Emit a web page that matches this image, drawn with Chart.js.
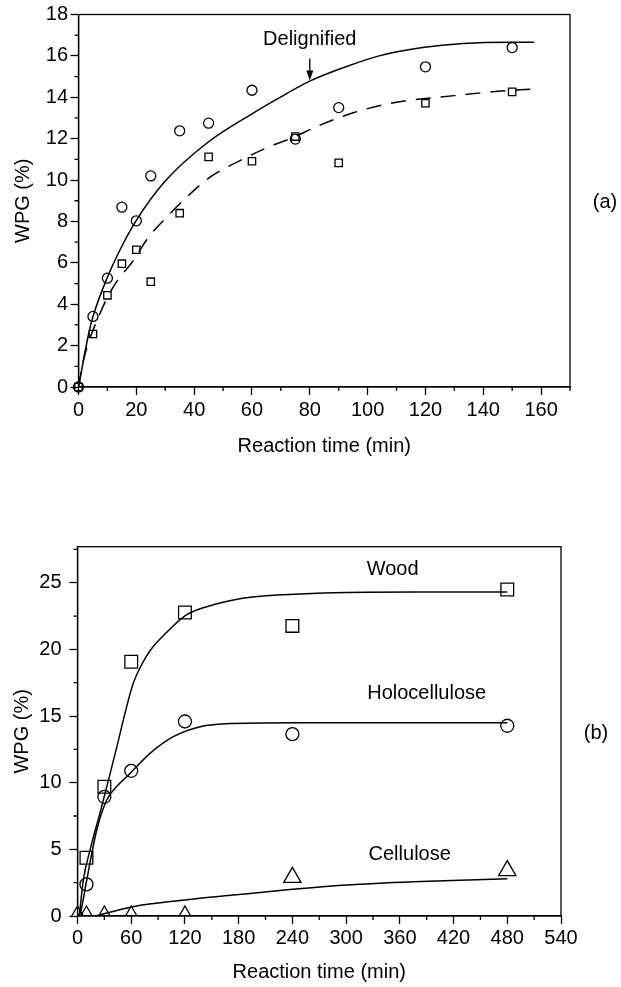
<!DOCTYPE html>
<html>
<head>
<meta charset="utf-8">
<script src="https://cdn.jsdelivr.net/npm/chart.js@4.4.1/dist/chart.umd.min.js"></script>
<style>
  html, body { margin: 0; padding: 0; background: #fff; }
  #wrap { position: relative; width: 621px; height: 987px; }
  canvas { position: absolute; left: 0; }
  #chartA { top: 0; }
  #chartB { top: 480px; }
</style>
</head>
<body>
<div id="wrap">
  <canvas id="chartA" width="621" height="470"></canvas>
  <canvas id="chartB" width="621" height="507"></canvas>
</div>
<script>
// ---- Panel (a): WPG vs reaction time, first 150 min ----
const timeA = [0, 5, 10, 15, 20, 25, 35, 45, 60, 75, 90, 120, 150];
const wpgDelignified = [0, 3.41, 5.26, 8.69, 8.03, 10.2, 12.38, 12.75, 14.34, 11.98, 13.5, 15.47, 16.4];
const wpgWoodA = [0, 2.56, 4.43, 5.96, 6.63, 5.09, 8.40, 11.12, 10.91, 12.1, 10.83, 13.71, 14.26];

// fitted curves of panel (a)
const fitDelignifiedX = [0, 3.4, 5, 10, 15, 20, 30, 45, 60, 70, 80, 93, 104, 119, 133, 150, 157.6];
const fitDelignifiedY = [0, 2.5, 3.4, 5.3, 6.8, 8.05, 9.95, 11.85, 13.2, 14.02, 14.78, 15.5, 16.0, 16.4, 16.6, 16.66, 16.66];
const fitWoodAX = [0, 1.7, 7.4, 12, 19, 24, 30.5, 37.4, 45.5, 56, 65, 75, 81, 95, 110, 130, 145, 157];
const fitWoodAY = [0, 1.29, 3.54, 4.83, 6.12, 7.2, 8.21, 9.17, 10.14, 10.95, 11.55, 12.1, 12.5, 13.25, 13.76, 14.08, 14.29, 14.4];

// ---- Panel (b): WPG vs reaction time up to 480 min ----
const timeB = [10, 30, 60, 120, 240, 480];
const wpgWood = [4.37, 9.69, 19.07, 22.76, 21.76, 24.49];
const wpgHolocellulose = [2.37, 8.94, 10.89, 14.59, 13.64, 14.27];
const timeCellulose = [0, 10, 30, 60, 120, 240, 480];
const wpgCellulose = [0, 0, 0, 0, 0, 2.9, 3.4];

// fitted curves of panel (b)
const fitWoodX = [2, 6.5, 15, 25, 35, 44, 53, 62, 72, 81, 100, 122, 155, 193, 248, 300, 380, 480];
const fitWoodY = [0, 2.7, 5.2, 7.7, 10.3, 12.7, 15.2, 17.4, 18.9, 19.9, 21.3, 22.6, 23.4, 23.9, 24.15, 24.27, 24.3, 24.3];
const fitHoloX = [0, 3, 10.3, 21.5, 32.6, 45, 55, 81, 107, 137, 174, 248, 480];
const fitHoloY = [0, 0.2, 2.7, 6.45, 8.7, 9.8, 10.44, 12.2, 13.45, 14.2, 14.44, 14.5, 14.5];
const fitCelluloseX = [20, 62, 120, 174, 240, 300, 375, 480];
const fitCelluloseY = [0, 0.7, 1.2, 1.57, 2.0, 2.32, 2.57, 2.8];

// tick settings
const ticksA = { xMin: 0, xMax: 170, xStep: 20, xMinor: 10, yMin: 0, yMax: 18, yStep: 2, yMinor: 1 };
const ticksB = { xMin: 0, xMax: 540, xStep: 60, xMinor: 30, yMin: 0, yMax: 27.7, yStep: 5, yMinor: 2.5 };

const FONT = "'Liberation Sans', Arial, Helvetica, sans-serif";
const INK = '#000';

const pts = (xs, ys) => xs.map((x, i) => ({ x: x, y: ys[i] }));

// frame, minor ticks, in-plot labels, arrow and panel tag
const decorPlugin = {
  id: 'decor',
  afterDraw(chart, args, opts) {
    const { ctx, chartArea: a, scales } = chart;
    const xs = scales.x, ys = scales.y;
    ctx.save();
    ctx.strokeStyle = INK;
    ctx.lineWidth = 1.3;
    ctx.strokeRect(a.left, a.top, a.right - a.left, a.bottom - a.top);

    // minor ticks
    ctx.beginPath();
    for (let v = xs.min; v <= xs.max + 1e-9; v += opts.xMinor) {
      if (Math.abs(v / opts.xStep - Math.round(v / opts.xStep)) < 1e-6) continue;
      const px = xs.getPixelForValue(v);
      ctx.moveTo(px, a.bottom);
      ctx.lineTo(px, a.bottom + 4);
    }
    for (let v = ys.min; v <= ys.max + 1e-9; v += opts.yMinor) {
      if (Math.abs(v / opts.yStep - Math.round(v / opts.yStep)) < 1e-6) continue;
      const py = ys.getPixelForValue(v);
      ctx.moveTo(a.left, py);
      ctx.lineTo(a.left - 4, py);
    }
    ctx.stroke();

    ctx.fillStyle = INK;
    ctx.font = '20px ' + FONT;
    ctx.textAlign = 'center';
    ctx.textBaseline = 'middle';
    (opts.texts || []).forEach(t => {
      ctx.fillText(t.text, xs.getPixelForValue(t.x), ys.getPixelForValue(t.y));
    });

    if (opts.arrow) {
      const px = xs.getPixelForValue(opts.arrow.x);
      const p1 = ys.getPixelForValue(opts.arrow.from);
      const p2 = ys.getPixelForValue(opts.arrow.to);
      ctx.lineWidth = 1.3;
      ctx.beginPath();
      ctx.moveTo(px, p1);
      ctx.lineTo(px, p2 - 6);
      ctx.stroke();
      ctx.beginPath();
      ctx.moveTo(px, p2);
      ctx.lineTo(px - 3.5, p2 - 10);
      ctx.lineTo(px + 3.5, p2 - 10);
      ctx.closePath();
      ctx.fill();
    }

    if (opts.panel) {
      ctx.fillText(opts.panel, a.right + 35, (a.top + a.bottom) / 2 + 2);
    }
    ctx.restore();
  }
};

function axisOptions(t, cfg) {
  const tickFont = { family: FONT, size: 20 };
  return {
    x: {
      type: 'linear',
      min: t.xMin, max: t.xMax,
      afterFit: s => { s.height = cfg.xHeight; },
      ticks: { stepSize: t.xStep, includeBounds: false, color: INK, font: tickFont,
               padding: cfg.xTickPad, maxRotation: 0, autoSkip: false },
      grid: { drawOnChartArea: false, drawTicks: true, tickLength: 8, tickColor: INK, tickWidth: 1.3 },
      border: { display: true, color: INK, width: 1.3 },
      title: { display: true, text: 'Reaction time (min)', color: INK, font: tickFont,
               padding: { top: 0, bottom: cfg.xTitlePad } }
    },
    y: {
      type: 'linear',
      min: t.yMin, max: t.yMax,
      afterFit: s => { s.width = cfg.yWidth; },
      ticks: { stepSize: t.yStep, includeBounds: false, color: INK, font: tickFont,
               padding: cfg.yTickPad, autoSkip: false },
      grid: { drawOnChartArea: false, drawTicks: true, tickLength: 8, tickColor: INK, tickWidth: 1.3 },
      border: { display: true, color: INK, width: 1.3 },
      title: { display: true, text: 'WPG (%)', color: INK, font: tickFont,
               padding: { top: cfg.yTitlePad, bottom: 0 } }
    }
  };
}

function markers(data, style, radius, clip) {
  return {
    data: data, showLine: false, pointStyle: style, pointRadius: radius, pointHoverRadius: radius,
    pointBorderColor: INK, pointBackgroundColor: 'rgba(0,0,0,0)', pointBorderWidth: 1.3, clip: clip
  };
}
function curve(data, dash) {
  return {
    data: data, showLine: true, pointRadius: 0, borderColor: INK, borderWidth: 1.5,
    borderDash: dash || [], cubicInterpolationMode: 'monotone', fill: false, clip: false
  };
}

const common = {
  responsive: false, animation: false, devicePixelRatio: 1,
  events: [],
};

new Chart(document.getElementById('chartA'), {
  type: 'scatter',
  data: {
    datasets: [
      curve(pts(fitDelignifiedX, fitDelignifiedY)),
      curve(pts(fitWoodAX, fitWoodAY), [15, 10]),
      markers(pts(timeA, wpgWoodA), 'rect', 5.2, false),
      markers(pts(timeA, wpgDelignified), 'circle', 5, false)
    ]
  },
  options: Object.assign({}, common, {
    layout: { padding: { left: 0, top: 14, right: 51, bottom: 0 } },
    scales: axisOptions(ticksA, { xHeight: 83, yWidth: 78.5, xTickPad: 3.7, yTickPad: 2.5, xTitlePad: 12, yTitlePad: 11 }),
    plugins: {
      legend: { display: false }, tooltip: { enabled: false },
      decor: Object.assign({}, ticksA, {
        texts: [{ text: 'Delignified', x: 80, y: 16.79 }],
        arrow: { x: 80, from: 15.87, to: 14.81 },
        panel: '(a)'
      })
    }
  }),
  plugins: [decorPlugin]
});

const clipB = { left: 15, right: 15, top: 15, bottom: 0 };
new Chart(document.getElementById('chartB'), {
  type: 'scatter',
  data: {
    datasets: [
      curve(pts(fitWoodX, fitWoodY)),
      curve(pts(fitHoloX, fitHoloY)),
      curve(pts(fitCelluloseX, fitCelluloseY)),
      markers(pts(timeB, wpgWood), 'rect', 9, clipB),
      markers(pts(timeB, wpgHolocellulose), 'circle', 6.5, clipB),
      markers(pts(timeCellulose, wpgCellulose), 'triangle', 10, clipB)
    ]
  },
  options: Object.assign({}, common, {
    layout: { padding: { left: 0, top: 66.7, right: 60, bottom: 0 } },
    scales: axisOptions(ticksB, { xHeight: 71, yWidth: 77.5, xTickPad: 2, yTickPad: 8, xTitlePad: 3, yTitlePad: 10 }),
    plugins: {
      legend: { display: false }, tooltip: { enabled: false },
      decor: Object.assign({}, ticksB, {
        texts: [
          { text: 'Wood', x: 352, y: 26.0 },
          { text: 'Holocellulose', x: 390, y: 16.7 },
          { text: 'Cellulose', x: 371, y: 4.65 }
        ],
        panel: '(b)'
      })
    }
  }),
  plugins: [decorPlugin]
});
</script>
</body>
</html>
